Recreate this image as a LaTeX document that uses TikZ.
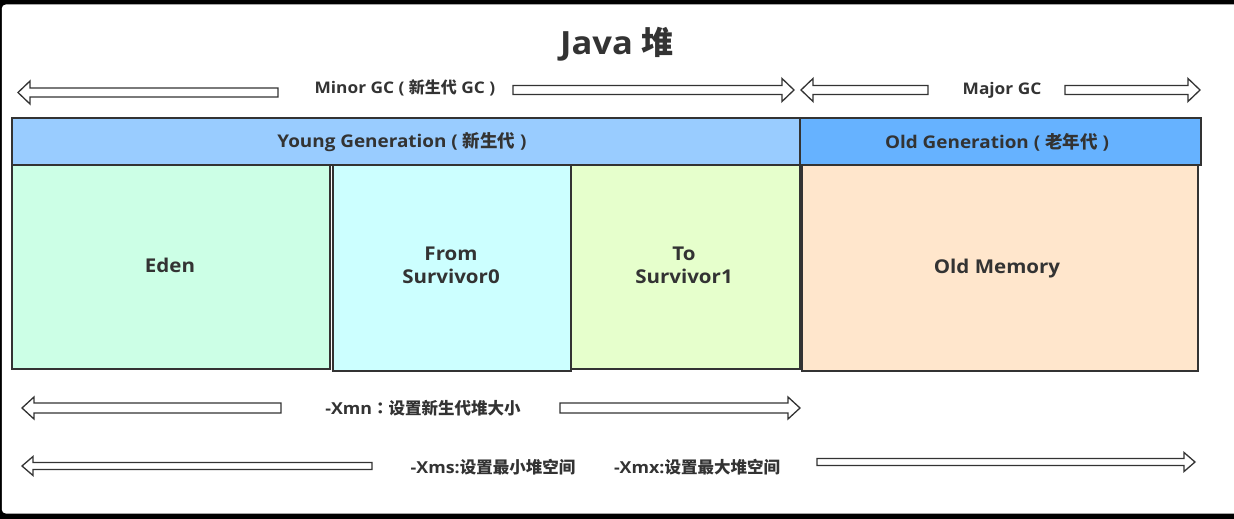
\documentclass[tikz,border=0pt]{standalone}
\usepackage{fontspec}
\setmainfont{Open Sans}[FakeStretch=1.08]
\newfontfamily\cjk{Noto Sans CJK SC}
\newfontfamily\cjktc{Noto Sans CJK TC}
\definecolor{young}{HTML}{99CCFF}
\definecolor{oldgen}{HTML}{66B2FF}
\definecolor{eden}{HTML}{CCFFE6}
\definecolor{from}{HTML}{CCFFFF}
\definecolor{tosurv}{HTML}{E6FFCC}
\definecolor{oldmem}{HTML}{FFE6CC}
\definecolor{edge}{HTML}{333333}
\definecolor{txt}{HTML}{333333}
\tikzset{
  lbl/.style={font=\bfseries\fontsize{16}{19}\selectfont, text=txt, inner sep=0pt},
  botlbl/.style={font=\bfseries\fontsize{16.5}{19}\selectfont, text=txt, inner sep=0pt},
  barlbl/.style={font=\bfseries\fontsize{17.5}{21}\selectfont, text=txt, inner sep=0pt},
  boxlbl/.style={font=\bfseries\fontsize{19}{23}\selectfont, text=txt, align=center, inner sep=0pt},
  region/.style={draw=edge, line width=1.6pt, inner sep=0pt, anchor=north west},
  barrow/.style={draw=edge, fill=white, line width=1.3pt, line join=miter},
}
% tail x, head base x, tip x, y, shaft half, head half
\newcommand\blkarrow[6]{%
  \draw[barrow] (#1,#4-#5) -- (#2,#4-#5) -- (#2,#4-#6) -- (#3,#4) -- (#2,#4+#6) -- (#2,#4+#5) -- (#1,#4+#5) -- cycle;}
\begin{document}
\begin{tikzpicture}[x=1pt,y=-1pt]
\useasboundingbox (0,0) rectangle (1234,519);
% frame
\fill[black] (0,0) rectangle (1234,519);
\fill[white, rounded corners=4pt] (1.8,4.5) rectangle (1244,513.5);

% title
\node[font=\bfseries\fontsize{32}{38}\selectfont, text=txt] (title) at (617,44) {Java {\cjk 堆}};

% GC arrows
\node[lbl] (minor) at (405,88) {Minor GC ( {\cjk 新生代} GC )};
\blkarrow{278}{30}{18}{92.5}{4.5}{11.5}
\blkarrow{513}{782}{794}{90}{4.5}{11.5}
\node[lbl] (major) at (1002,90) {Major GC};
\blkarrow{928}{813}{801}{90}{4.5}{11.5}
\blkarrow{1065}{1188}{1200}{90}{4.5}{11.5}

% generation bars
\node[region, fill=young, minimum width=788, minimum height=47] (young) at (11,117) {};
\node[barlbl] (younglbl) at (402,142) {Young Generation ( {\cjk 新生代} )};
\node[region, fill=oldgen, minimum width=401, minimum height=47] (old) at (799,117) {};
\node[barlbl] (oldlbl) at (997,142) {Old Generation ( {\cjk 老年代} )};

% spaces
\node[region, fill=eden, minimum width=318, minimum height=204] (eden) at (11,164) {};
\node[boxlbl] (edenlbl) at (170,265) {Eden};
\node[region, fill=from, minimum width=238, minimum height=206] (from) at (332,164) {};
\node[boxlbl] (fromlbl) at (451,265) {From\\Survivor0};
\node[region, fill=tosurv, minimum width=229, minimum height=204] (to) at (570,164) {};
\node[boxlbl] (tolbl) at (684,265) {To\\Survivor1};
\node[region, fill=oldmem, minimum width=396, minimum height=206] (oldm) at (801,164) {};
\node[boxlbl] (oldmlbl) at (997,269) {Old Memory};

% -Xmn
\node[botlbl] (xmn) at (423,408) {-Xmn{\cjktc ：}{\cjk 设置新生代堆大小}};
\blkarrow{281}{34}{22}{408}{5}{11}
\blkarrow{560}{788}{800}{408}{5}{11}

% -Xms / -Xmx
\node[botlbl] (xms) at (493,467) {-Xms:{\cjk 设置最小堆空间}};
\node[botlbl] (xmx) at (697,467) {-Xmx:{\cjk 设置最大堆空间}};
\blkarrow{372}{33}{22}{466}{3.5}{9.5}
\blkarrow{817}{1184}{1195}{462}{3.5}{9.5}
\end{tikzpicture}
\end{document}
